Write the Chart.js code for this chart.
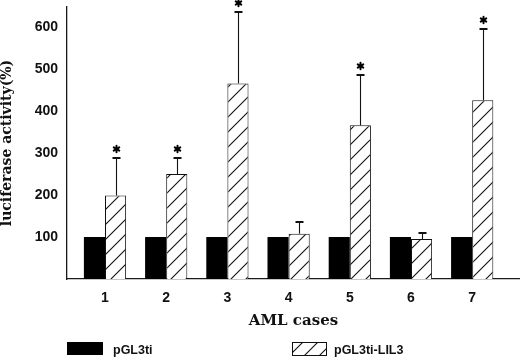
<!DOCTYPE html>
<html><head><meta charset="utf-8">
<script src="https://cdn.jsdelivr.net/npm/chart.js@4"></script>
<style>html,body{margin:0;padding:0;background:#fff}canvas{display:block}</style>
</head><body>
<canvas id="c" width="520" height="360"></canvas>
<script>
const categories = [1, 2, 3, 4, 5, 6, 7];
const controlValues = [100, 100, 100, 100, 100, 100, 100];
const lil3Values = [199, 250, 466, 108, 366, 95, 426];
const lil3ErrorTops = [288, 288, 636, 135, 486, 110, 595];
const significant = [true, true, true, false, true, false, true];
const yTickLabels = [100, 200, 300, 400, 500, 600];
const seriesNames = ['pGL3ti', 'pGL3ti-LIL3'];
const xTitle = 'AML cases';
const yTitle = 'luciferase activity(%)';

const canvas = document.getElementById('c');
const mainCtx = canvas.getContext('2d');

function makeHatch(ctx) {
  const s = 15;
  const c = document.createElement('canvas');
  c.width = s; c.height = s;
  const g = c.getContext('2d');
  g.fillStyle = '#fff'; g.fillRect(0, 0, s, s);
  g.strokeStyle = '#111'; g.lineWidth = 1.1;
  g.beginPath();
  g.moveTo(0, s); g.lineTo(s, 0);
  g.moveTo(-2, 2); g.lineTo(2, -2);
  g.moveTo(s - 2, s + 2); g.lineTo(s + 2, s - 2);
  g.stroke();
  return ctx.createPattern(c, 'repeat');
}
const hatch = makeHatch(mainCtx);

function drawStar(ctx, x, y) {
  ctx.save();
  ctx.lineWidth = 2;
  ctx.lineCap = 'round';
  ctx.strokeStyle = '#000';
  for (let k = 0; k < 3; k++) {
    const a = Math.PI / 2 + k * Math.PI / 3;
    ctx.beginPath();
    ctx.moveTo(x - 3.2 * Math.cos(a), y - 3.2 * Math.sin(a));
    ctx.lineTo(x + 3.2 * Math.cos(a), y + 3.2 * Math.sin(a));
    ctx.stroke();
  }
  ctx.beginPath(); ctx.fillStyle = '#000'; ctx.arc(x, y, 1.8, 0, Math.PI * 2); ctx.fill();
  ctx.restore();
}

const extras = {
  id: 'extras',
  afterDatasetsDraw(chart) {
    const ctx = chart.ctx;
    const meta = chart.getDatasetMeta(1);
    const y = chart.scales.y;
    ctx.save();
    meta.data.forEach((bar, i) => {
      const x = Math.round(bar.x) + 0.5;
      const top = Math.round(y.getPixelForValue(lil3ErrorTops[i]));
      ctx.strokeStyle = '#111';
      ctx.lineWidth = 1.1;
      ctx.beginPath(); ctx.moveTo(x, bar.y); ctx.lineTo(x, top); ctx.stroke();
      ctx.lineWidth = 2;
      ctx.beginPath(); ctx.moveTo(x - 4, top); ctx.lineTo(x + 4, top); ctx.stroke();
      if (significant[i]) drawStar(ctx, x, top - 9);
    });
    ctx.restore();
  },
  afterDraw(chart) {
    const ctx = chart.ctx;
    const ds = chart.data.datasets;
    ctx.save();
    ctx.fillStyle = ds[0].backgroundColor;
    ctx.fillRect(67, 342, 36, 13);
    ctx.fillStyle = ds[1].backgroundColor;
    ctx.fillRect(292, 342, 35, 14);
    ctx.strokeStyle = '#111'; ctx.lineWidth = 1;
    ctx.strokeRect(292.5, 342.5, 34, 13);
    ctx.fillStyle = '#111';
    ctx.font = 'bold 12.5px "Liberation Sans", Arial, sans-serif';
    ctx.textBaseline = 'middle';
    ctx.fillText(ds[0].label, 113, 351);
    ctx.fillText(ds[1].label, 334, 351);
    ctx.restore();
  }
};

new Chart(mainCtx, {
  type: 'bar',
  data: {
    datasets: [
      {
        label: seriesNames[0],
        data: categories.map((c, i) => ({x: c, y: controlValues[i]})),
        backgroundColor: '#000',
        borderWidth: 0
      },
      {
        label: seriesNames[1],
        data: categories.map((c, i) => ({x: c, y: lil3Values[i]})),
        backgroundColor: hatch,
        borderColor: '#111',
        borderWidth: 1
      }
    ]
  },
  options: {
    responsive: false,
    animation: false,
    devicePixelRatio: 1,
    categoryPercentage: 0.69,
    barPercentage: 1,
    layout: {padding: {top: 7, bottom: 31, left: 0, right: 0}},
    plugins: {legend: {display: false}, tooltip: {enabled: false}},
    scales: {
      x: {
        type: 'linear',
        offset: false,
        min: 0.379,
        max: 7.781,
        grid: {display: false, drawTicks: false, offset: false},
        border: {display: true, color: '#1a1a1a', width: 1.3},
        ticks: {
          stepSize: 1,
          includeBounds: false,
          padding: 11,
          color: '#111',
          font: {family: '"Liberation Sans", Arial, sans-serif', size: 14, weight: 'bold'},
          callback: v => categories.includes(v) ? String(v) : ''
        },
        title: {
          display: true, text: xTitle, color: '#111',
          font: {family: '"DejaVu Serif", serif', size: 15, weight: 'bold', lineHeight: 1},
          padding: {top: 0, bottom: 0}
        },
        afterFit: s => { s.height = 50; s.paddingLeft = 0; s.paddingRight = 0; }
      },
      y: {
        min: 0,
        max: 648,
        grid: {display: false, drawTicks: false},
        border: {display: true, color: '#1a1a1a', width: 1.3},
        ticks: {
          stepSize: 100,
          includeBounds: false,
          padding: 9,
          color: '#111',
          font: {family: '"Liberation Sans", Arial, sans-serif', size: 14, weight: 'bold'},
          callback: v => yTickLabels.includes(v) ? String(v) : ''
        },
        title: {
          display: true, text: yTitle, color: '#111',
          font: {family: '"DejaVu Serif", serif', size: 14, weight: 'bold', lineHeight: 1},
          padding: {top: 0, bottom: 0}
        },
        afterFit: s => { s.width = 67; s.paddingTop = 0; s.paddingBottom = 0; }
      }
    }
  },
  plugins: [extras]
});
</script>
</body></html>
